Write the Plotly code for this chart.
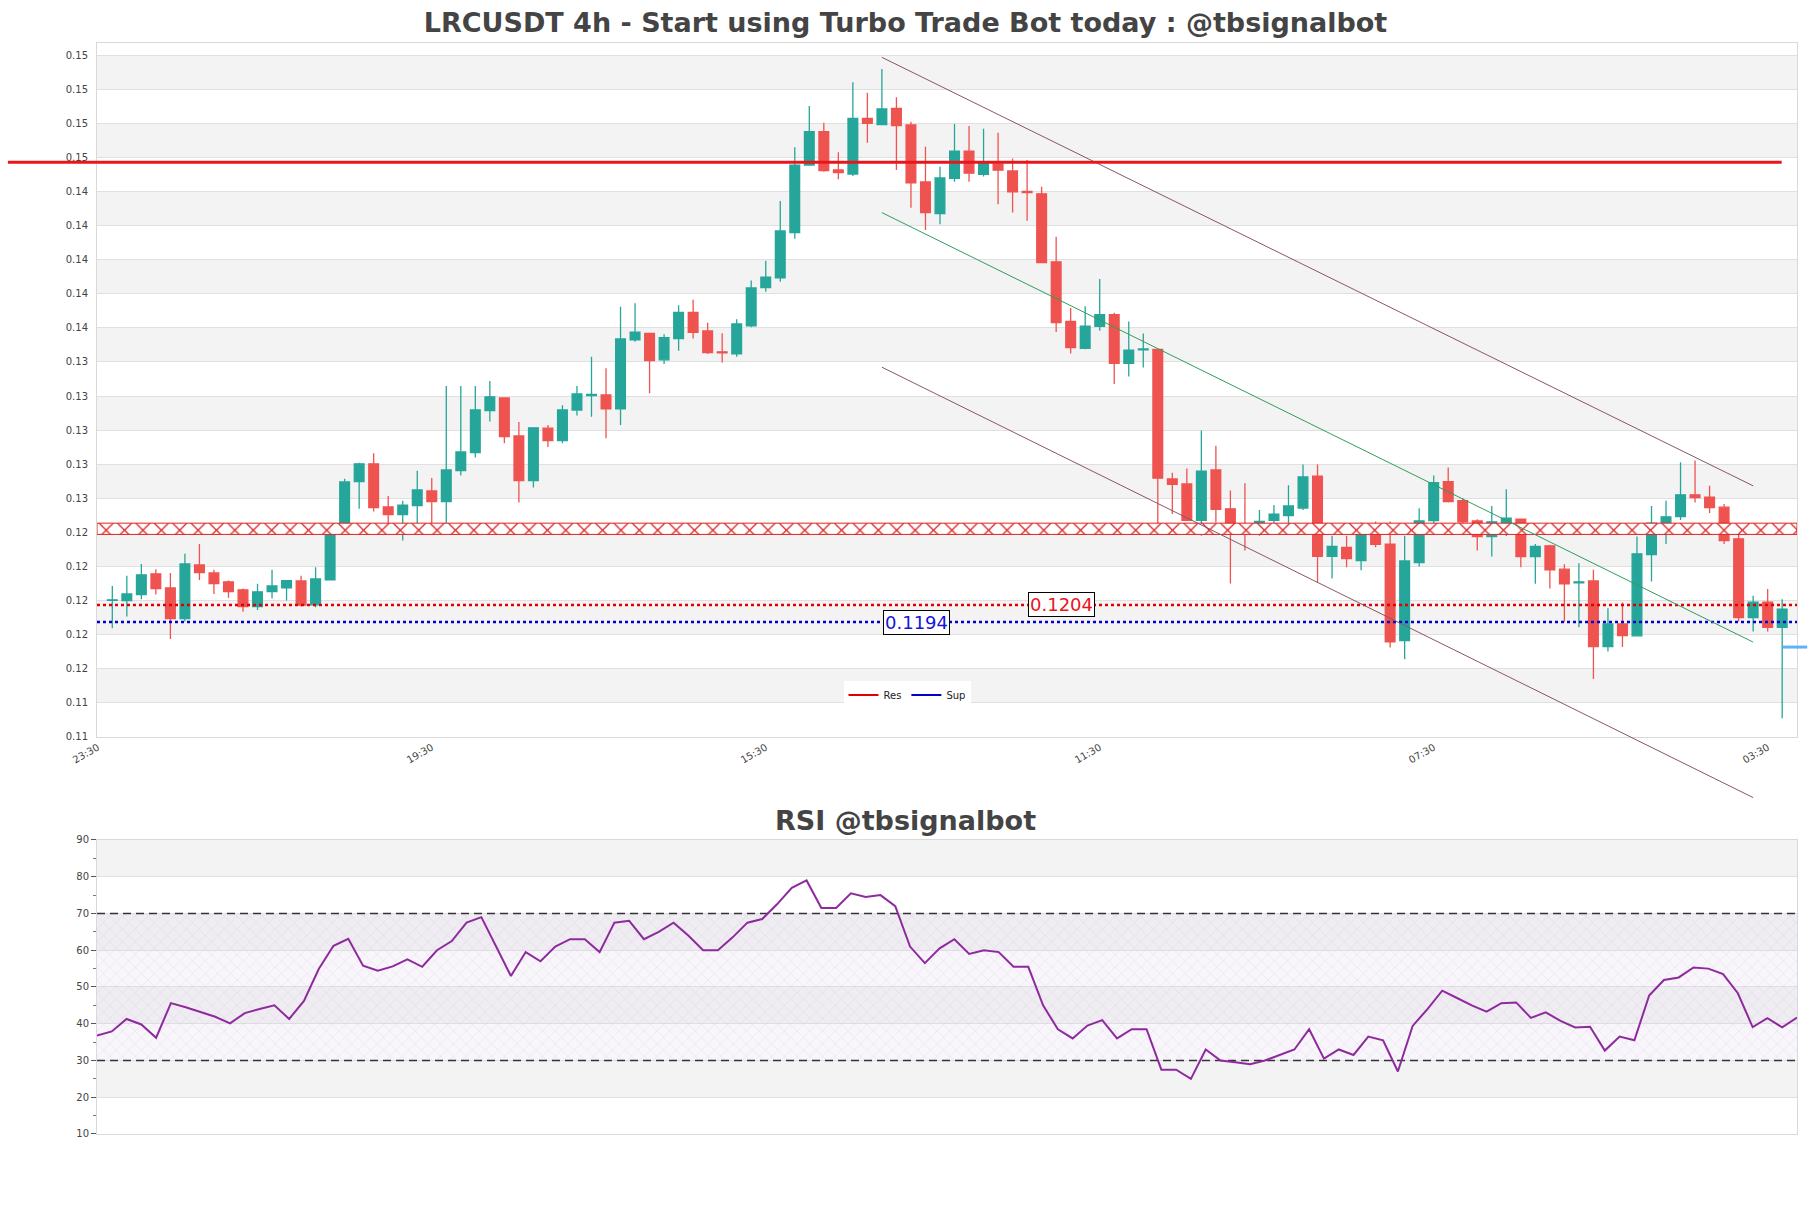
import plotly.graph_objects as go

# ---------------- data ----------------
candle_open = [
    0.12067, 0.12066, 0.12101, 0.12223, 0.12140, 0.11960, 0.12275, 0.12228, 0.12176, 0.12129,
    0.12031, 0.12119, 0.12140, 0.12181, 0.12041, 0.12187, 0.12500, 0.12764, 0.12868, 0.12615,
    0.12570, 0.12623, 0.12709, 0.12647, 0.12828, 0.12934, 0.13180, 0.13255, 0.13032, 0.12770,
    0.13077, 0.13004, 0.13184, 0.13269, 0.13272, 0.13190, 0.13595, 0.13634, 0.13478, 0.13603,
    0.13757, 0.13648, 0.13525, 0.13513, 0.13677, 0.13902, 0.13959, 0.14224, 0.14621, 0.14817,
    0.14592, 0.14568, 0.14895, 0.14858, 0.14954, 0.14856, 0.14522, 0.14336, 0.14543, 0.14703,
    0.14567, 0.14627, 0.14586, 0.14466, 0.14452, 0.14053, 0.13703, 0.13545, 0.13674, 0.13744,
    0.13458, 0.13537, 0.13540, 0.12779, 0.12750, 0.12536, 0.12832, 0.12604, 0.12507, 0.12495,
    0.12536, 0.12565, 0.12609, 0.12796, 0.12325, 0.12378, 0.12300, 0.12451, 0.12397, 0.11831,
    0.12289, 0.12535, 0.12764, 0.12652, 0.12533, 0.12441, 0.12520, 0.12543, 0.12324, 0.12387,
    0.12250, 0.12170, 0.12181, 0.11796, 0.11929, 0.11859, 0.12336, 0.12520, 0.12559, 0.12686,
    0.12672, 0.12614, 0.12428, 0.11966, 0.12057, 0.11908,
]
candle_high = [
    0.12152, 0.12211, 0.12281, 0.12250, 0.12227, 0.12340, 0.12398, 0.12246, 0.12183, 0.12136,
    0.12164, 0.12246, 0.12187, 0.12211, 0.12262, 0.12506, 0.12781, 0.12875, 0.12930, 0.12680,
    0.12651, 0.12827, 0.12785, 0.13325, 0.13325, 0.13325, 0.13354, 0.13255, 0.13114, 0.13079,
    0.13096, 0.13212, 0.13325, 0.13497, 0.13429, 0.13790, 0.13810, 0.13634, 0.13628, 0.13798,
    0.13830, 0.13696, 0.13634, 0.13716, 0.13943, 0.14060, 0.14410, 0.14725, 0.14967, 0.14869,
    0.14696, 0.15106, 0.15045, 0.15184, 0.15018, 0.14875, 0.14729, 0.14611, 0.14862, 0.14850,
    0.14834, 0.14810, 0.14659, 0.14651, 0.14493, 0.14201, 0.13783, 0.13793, 0.13953, 0.13754,
    0.13703, 0.13632, 0.13540, 0.12815, 0.12840, 0.13064, 0.12974, 0.12711, 0.12754, 0.12597,
    0.12626, 0.12743, 0.12864, 0.12864, 0.12446, 0.12446, 0.12524, 0.12529, 0.12529, 0.12446,
    0.12608, 0.12799, 0.12846, 0.12667, 0.12543, 0.12621, 0.12719, 0.12543, 0.12398, 0.12393,
    0.12279, 0.12285, 0.12246, 0.12021, 0.12054, 0.12441, 0.12621, 0.12651, 0.12878, 0.12887,
    0.12739, 0.12633, 0.12465, 0.12094, 0.12133, 0.12074,
]
candle_low = [
    0.11904, 0.11972, 0.12074, 0.12101, 0.11840, 0.11943, 0.12187, 0.12105, 0.12082, 0.12000,
    0.12011, 0.12078, 0.12066, 0.12031, 0.12027, 0.12183, 0.12496, 0.12605, 0.12588, 0.12496,
    0.12418, 0.12506, 0.12496, 0.12506, 0.12799, 0.12905, 0.13116, 0.12989, 0.12641, 0.12729,
    0.12967, 0.12989, 0.13151, 0.13145, 0.13018, 0.13096, 0.13585, 0.13282, 0.13454, 0.13532,
    0.13603, 0.13513, 0.13462, 0.13497, 0.13669, 0.13878, 0.13937, 0.14189, 0.14621, 0.14582,
    0.14537, 0.14557, 0.14752, 0.14858, 0.14592, 0.14371, 0.14240, 0.14274, 0.14523, 0.14523,
    0.14554, 0.14391, 0.14343, 0.14294, 0.14048, 0.13642, 0.13516, 0.13540, 0.13649, 0.13336,
    0.13380, 0.13433, 0.12499, 0.12573, 0.12536, 0.12446, 0.12524, 0.12166, 0.12359, 0.12446,
    0.12463, 0.12512, 0.12597, 0.12171, 0.12196, 0.12261, 0.12244, 0.12378, 0.11790, 0.11721,
    0.12265, 0.12510, 0.12641, 0.12500, 0.12359, 0.12324, 0.12445, 0.12262, 0.12164, 0.12136,
    0.11941, 0.11910, 0.11605, 0.11767, 0.11793, 0.11855, 0.12177, 0.12397, 0.12539, 0.12641,
    0.12579, 0.12398, 0.11943, 0.11884, 0.11884, 0.11376,
]
candle_close = [
    0.12070, 0.12105, 0.12217, 0.12136, 0.11960, 0.12281, 0.12230, 0.12166, 0.12119, 0.12031,
    0.12117, 0.12152, 0.12183, 0.12039, 0.12193, 0.12500, 0.12762, 0.12868, 0.12611, 0.12570,
    0.12625, 0.12715, 0.12647, 0.12832, 0.12938, 0.13184, 0.13261, 0.13028, 0.12770, 0.13079,
    0.13004, 0.13184, 0.13278, 0.13275, 0.13190, 0.13601, 0.13640, 0.13474, 0.13608, 0.13757,
    0.13640, 0.13520, 0.13519, 0.13689, 0.13900, 0.13963, 0.14234, 0.14621, 0.14817, 0.14588,
    0.14576, 0.14895, 0.14866, 0.14950, 0.14852, 0.14517, 0.14342, 0.14545, 0.14703, 0.14573,
    0.14630, 0.14591, 0.14464, 0.14460, 0.14048, 0.13696, 0.13550, 0.13676, 0.13744, 0.13458,
    0.13535, 0.13542, 0.12784, 0.12747, 0.12536, 0.12825, 0.12601, 0.12512, 0.12501, 0.12531,
    0.12573, 0.12621, 0.12791, 0.12325, 0.12383, 0.12312, 0.12456, 0.12395, 0.11824, 0.12298,
    0.12533, 0.12758, 0.12647, 0.12528, 0.12441, 0.12528, 0.12549, 0.12324, 0.12383, 0.12246,
    0.12164, 0.12176, 0.11796, 0.11929, 0.11861, 0.12340, 0.12520, 0.12557, 0.12686, 0.12670,
    0.12611, 0.12418, 0.11966, 0.12057, 0.11908, 0.12015,
]
rsi_values = [
    36.8, 37.9, 41.3, 39.8, 36.2, 45.6, 44.5, 43.2, 41.9, 40.1,
    42.9, 44.0, 45.0, 41.3, 46.2, 54.9, 61.2, 63.1, 55.8, 54.4,
    55.6, 57.5, 55.5, 60.0, 62.5, 67.5, 69.0, 61.0, 53.0, 59.5,
    57.0, 61.0, 63.0, 63.0, 59.5, 67.5, 68.0, 63.0, 65.0, 67.5,
    64.0, 60.0, 60.0, 63.5, 67.5, 68.5, 72.5, 77.0, 79.0, 71.5,
    71.5, 75.5, 74.5, 75.0, 72.0, 61.0, 56.5, 60.5, 63.0, 59.0,
    60.0, 59.5, 55.5, 55.5, 45.0, 38.5, 36.0, 39.5, 41.0, 36.0,
    38.5, 38.5, 27.5, 27.5, 25.0, 33.0, 30.0, 29.5, 29.0, 30.0,
    31.5, 33.0, 38.5, 30.5, 33.0, 31.5, 36.5, 35.5, 27.0, 39.4,
    44.0, 49.0, 47.0, 45.0, 43.3, 45.6, 45.8, 41.6, 43.1, 40.8,
    39.0, 39.2, 32.7, 36.5, 35.5, 47.7, 51.9, 52.6, 55.3, 55.0,
    53.5, 48.3, 39.1, 41.5, 39.0, 41.7,
]
x_tick_positions = [-1, 22, 45, 68, 91, 114]
x_tick_labels = ["23:30", "19:30", "15:30", "11:30", "07:30", "03:30"]

resistance = 0.1204
support = 0.1194
resistance_label = "0.1204"
support_label = "0.1194"
key_level = 0.14637
zone_low = 0.12454
zone_high = 0.12520
last_marker = 0.11793
channel_x = [53, 113]
channel_upper = [0.15253, 0.12739]
channel_mid = [0.14342, 0.11822]
channel_lower = [0.13435, 0.10910]
rsi_overbought = 70
rsi_oversold = 30

# ---------------- layout constants ----------------
FONT = "DejaVu Sans"
TXT = "#444444"
BORDER = "#d9d9d9"
GRID = "#e0e0e0"
STRIPE = "#f3f3f3"

n = len(candle_open)
idx = list(range(n))
X_RANGE = [-1.054, 116.02]
Y_TICK0 = 0.11266
Y_DTICK = 0.002
Y_RANGE = [0.112655, 0.15337]
PRICE_DOMAIN = [0.3639, 1.0]
RSI_DOMAIN = [0.0, 0.2695]
RSI_X_RANGE = [0, n - 1]


def x_paper(v):
    return (v - X_RANGE[0]) / (X_RANGE[1] - X_RANGE[0])


def y_paper(v):
    f = (v - Y_RANGE[0]) / (Y_RANGE[1] - Y_RANGE[0])
    return PRICE_DOMAIN[0] + f * (PRICE_DOMAIN[1] - PRICE_DOMAIN[0])


fig = go.Figure()

# red hatched zone
fig.add_trace(go.Scatter(
    x=[X_RANGE[0], X_RANGE[1], X_RANGE[1], X_RANGE[0], X_RANGE[0]],
    y=[zone_low, zone_low, zone_high, zone_high, zone_low],
    mode="lines", fill="toself", fillcolor="white",
    line=dict(color="#e02020", width=1),
    fillpattern=dict(shape="x", size=13, solidity=0.18, fgcolor="#e02020",
                     bgcolor="white", fillmode="replace"),
    hoverinfo="skip", showlegend=False, xaxis="x", yaxis="y",
))

# candles
fig.add_trace(go.Candlestick(
    x=idx, open=candle_open, high=candle_high, low=candle_low, close=candle_close,
    increasing=dict(line=dict(color="#26a69a", width=1.3), fillcolor="#26a69a"),
    decreasing=dict(line=dict(color="#ef5350", width=1.3), fillcolor="#ef5350"),
    whiskerwidth=0, showlegend=False, xaxis="x", yaxis="y",
))

# support / resistance dotted lines
fig.add_trace(go.Scatter(x=[X_RANGE[0], X_RANGE[1]], y=[resistance, resistance], mode="lines",
                         line=dict(color="#e00000", width=2.5, dash="dot"),
                         showlegend=False, hoverinfo="skip"))
fig.add_trace(go.Scatter(x=[X_RANGE[0], X_RANGE[1]], y=[support, support], mode="lines",
                         line=dict(color="#0000cc", width=2.5, dash="dot"),
                         showlegend=False, hoverinfo="skip"))
# legend-only entries
fig.add_trace(go.Scatter(x=[None], y=[None], mode="lines", name="Res",
                         line=dict(color="#e00000", width=2)))
fig.add_trace(go.Scatter(x=[None], y=[None], mode="lines", name="Sup",
                         line=dict(color="#0000cc", width=2)))

# channel lines
fig.add_trace(go.Scatter(x=channel_x, y=channel_upper, mode="lines",
                         line=dict(color="#8b5566", width=1), showlegend=False, hoverinfo="skip"))
fig.add_trace(go.Scatter(x=channel_x, y=channel_mid, mode="lines",
                         line=dict(color="#2e9e5e", width=1), showlegend=False, hoverinfo="skip"))

# RSI hatch and line
fig.add_trace(go.Scatter(
    x=[RSI_X_RANGE[0], RSI_X_RANGE[1], RSI_X_RANGE[1], RSI_X_RANGE[0], RSI_X_RANGE[0]],
    y=[rsi_oversold, rsi_oversold, rsi_overbought, rsi_overbought, rsi_oversold],
    mode="lines", fill="toself", fillcolor="rgba(225,215,235,0.22)",
    line=dict(width=0), fillpattern=dict(shape="x", size=9, solidity=0.1, fgcolor="#c9bdd5",
                                         fillmode="overlay"),
    hoverinfo="skip", showlegend=False, xaxis="x2", yaxis="y2",
))
for lvl in (rsi_overbought, rsi_oversold):
    fig.add_trace(go.Scatter(x=RSI_X_RANGE, y=[lvl, lvl], mode="lines",
                             line=dict(color="#333333", width=1.3, dash="8px,5px"),
                             showlegend=False, hoverinfo="skip", xaxis="x2", yaxis="y2"))
fig.add_trace(go.Scatter(x=idx, y=rsi_values, mode="lines",
                         line=dict(color="#8e2a9e", width=2),
                         showlegend=False, xaxis="x2", yaxis="y2"))

shapes = []
# price stripes
for k in range(20):
    if k % 2 == 1:
        y0 = Y_TICK0 + k * Y_DTICK
        shapes.append(dict(type="rect", xref="paper", yref="y", x0=0, x1=1, y0=y0, y1=y0 + Y_DTICK,
                           fillcolor=STRIPE, line=dict(width=0), layer="below"))
# rsi stripes
for lo in (20, 40, 60, 80):
    shapes.append(dict(type="rect", xref="paper", yref="y2", x0=0, x1=1, y0=lo, y1=lo + 10,
                       fillcolor=STRIPE, line=dict(width=0), layer="below"))
# key level thick red line (extends into margin)
shapes.append(dict(type="line", xref="paper", yref="y", x0=-0.0524, x1=0.991,
                   y0=key_level, y1=key_level, line=dict(color="#e8161b", width=3), layer="above"))
# lower channel line (extends below the plot)
shapes.append(dict(type="line", xref="x", yref="paper", x0=channel_x[0], x1=channel_x[1],
                   y0=y_paper(channel_lower[0]), y1=y_paper(channel_lower[1]),
                   line=dict(color="#8b5566", width=1), layer="above"))
# last price marker
shapes.append(dict(type="line", xref="paper", yref="y", x0=x_paper(n - 1), x1=1.006,
                   y0=last_marker, y1=last_marker,
                   line=dict(color="rgba(66,165,245,0.85)", width=3), layer="above"))

annotations = [
    dict(text=resistance_label, x=65.4, y=resistance, xref="x", yref="y", showarrow=False,
         font=dict(family=FONT, size=18, color="#e8141c"), bgcolor="white",
         bordercolor="black", borderwidth=1, borderpad=1),
    dict(text=support_label, x=55.4, y=support, xref="x", yref="y", showarrow=False,
         font=dict(family=FONT, size=18, color="#1414dd"), bgcolor="white",
         bordercolor="black", borderwidth=1, borderpad=1),
    dict(text="RSI @tbsignalbot", x=(905.5 - 97) / 1700, y=(1134 - 820) / 1091,
         xref="paper", yref="paper", showarrow=False, xanchor="center", yanchor="middle",
         font=dict(family=FONT, size=27, color=TXT, weight="bold")),
]

axis_common = dict(showline=True, mirror=True, linecolor=BORDER, linewidth=1, zeroline=False)

fig.update_layout(
    width=1811, height=1208, autosize=False,
    margin=dict(l=97, r=14, t=43, b=74),
    paper_bgcolor="white", plot_bgcolor="white",
    font=dict(family=FONT, size=10, color=TXT),
    title=dict(text="LRCUSDT 4h - Start using Turbo Trade Bot today : @tbsignalbot",
               x=0.5, xref="container", xanchor="center",
               y=1 - 23 / 1208, yref="container", yanchor="middle",
               font=dict(family=FONT, size=27, color=TXT, weight="bold")),
    boxgap=0.33, boxgroupgap=0,
    xaxis=dict(domain=[0, 1], anchor="y", range=X_RANGE, tickmode="array",
               tickvals=x_tick_positions, ticktext=x_tick_labels, tickangle=-30,
               showgrid=False, rangeslider=dict(visible=False),
               tickfont=dict(family=FONT, size=10, color=TXT), **axis_common),
    yaxis=dict(domain=PRICE_DOMAIN, anchor="x", range=Y_RANGE, tick0=Y_TICK0, dtick=Y_DTICK,
               tickformat=".2f", showgrid=True, gridcolor=GRID, gridwidth=1,
               ticks="outside", ticklen=6, tickcolor="rgba(0,0,0,0)",
               tickfont=dict(family=FONT, size=10, color=TXT), **axis_common),
    xaxis2=dict(domain=[0, 1], anchor="y2", range=RSI_X_RANGE, showticklabels=False,
                showgrid=False, **axis_common),
    yaxis2=dict(domain=RSI_DOMAIN, anchor="x2", range=[10, 90], tickmode="array",
                tickvals=list(range(10, 91, 10)), showgrid=True, gridcolor=GRID,
                ticks="outside", ticklen=5, tickcolor="#555555",
                minor=dict(tickmode="linear", tick0=5, dtick=5, ticks="outside", ticklen=3,
                           tickcolor="#777777", showgrid=False),
                tickfont=dict(family=FONT, size=10, color=TXT), **axis_common),
    legend=dict(orientation="h", x=(907 - 97) / 1700, xanchor="center",
                y=(1134 - 695) / 1091, yanchor="middle", bgcolor="white",
                font=dict(family=FONT, size=10, color="#222222"), itemwidth=30),
    shapes=shapes,
    annotations=annotations,
    hovermode=False,
)

fig.write_html("out.html")
